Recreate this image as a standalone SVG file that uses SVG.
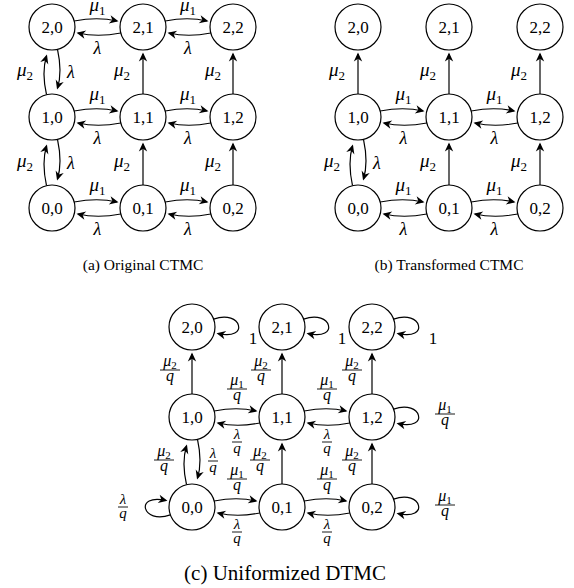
<svg xmlns="http://www.w3.org/2000/svg" width="574" height="588" viewBox="0 0 574 588">
<style>
.n circle{fill:#fff;stroke:#000;stroke-width:1.2}
.n text{font-family:"Liberation Serif",serif;font-size:17px;text-anchor:middle}
.e path{fill:none;stroke:#000;stroke-width:1.2;marker-end:url(#arr)}
.lb text{font-family:"Liberation Serif",serif;font-size:19px;text-anchor:middle}
.lb .l{font-size:18px}
.lb .f{font-size:16px}
.lb .fl{font-size:15px}
.it{font-style:italic}
.sb{font-size:13px;font-style:normal}
.fs{font-size:11px;font-style:normal}
.lb line{stroke:#000;stroke-width:0.9}
.cap{font-family:"Liberation Serif",serif;font-size:15.5px;text-anchor:middle}
.capc{font-family:"Liberation Serif",serif;font-size:21px;text-anchor:middle}
</style>
<defs>
<marker id="arr" markerUnits="userSpaceOnUse" orient="auto" markerWidth="12" markerHeight="12" refX="0" refY="0" overflow="visible">
<path d="M1.5,0 L-7.5,-4.2 L-4.8,0 L-7.5,4.2 Z" fill="#000"/>
</marker>
</defs>

<g id="connectors" class="e">
<!-- panel a -->
<path d="M74.2,21 Q97.5,16.5 117,21"/><path d="M120.8,33 Q97.5,37.5 78,33"/>
<path d="M165.2,21 Q188,16.5 207,21"/><path d="M210.8,33 Q188,37.5 169,33"/>
<path d="M74.2,111 Q97.5,106.5 117,111"/><path d="M120.8,123 Q97.5,127.5 78,123"/>
<path d="M165.2,111 Q188,106.5 207,111"/><path d="M210.8,123 Q188,127.5 169,123"/>
<path d="M74.2,202 Q97.5,197.5 117,202"/><path d="M120.8,214 Q97.5,218.5 78,214"/>
<path d="M165.2,202 Q188,197.5 207,202"/><path d="M210.8,214 Q188,218.5 169,214"/>
<path d="M46.5,94.7 Q41.5,72 46.5,56"/><path d="M57.5,49.3 Q62.5,72 57.5,88"/>
<path d="M46.5,185.7 Q41.5,162.5 46.5,146"/><path d="M57.5,139.3 Q62.5,162.5 57.5,179"/>
<path d="M143,94 L143,54"/><path d="M233,94 L233,54"/>
<path d="M143,185 L143,144"/><path d="M233,185 L233,144"/>
<!-- panel b -->
<path d="M358,94 L358,54"/><path d="M449,94 L449,54"/><path d="M540,94 L540,54"/>
<path d="M380.2,111 Q403.5,106.5 423,111"/><path d="M426.8,123 Q403.5,127.5 384,123"/>
<path d="M471.2,111 Q494.5,106.5 514,111"/><path d="M517.8,123 Q494.5,127.5 475,123"/>
<path d="M380.2,202 Q403.5,197.5 423,202"/><path d="M426.8,214 Q403.5,218.5 384,214"/>
<path d="M471.2,202 Q494.5,197.5 514,202"/><path d="M517.8,214 Q494.5,218.5 475,214"/>
<path d="M352.5,185.7 Q347.5,162.5 352.5,146"/><path d="M363.5,139.3 Q368.5,162.5 363.5,179"/>
<path d="M449,185 L449,144"/><path d="M540,185 L540,144"/>
<!-- panel c -->
<path d="M192,394 L192,354"/><path d="M282,394 L282,354"/><path d="M372,394 L372,354"/>
<path d="M214.2,411 Q237,406.5 256,411"/><path d="M259.8,423 Q237,427.5 218,423"/>
<path d="M304.2,411 Q327,406.5 346,411"/><path d="M349.8,423 Q327,427.5 308,423"/>
<path d="M214.2,501 Q237,496.5 256,501"/><path d="M259.8,513 Q237,517.5 218,513"/>
<path d="M304.2,501 Q327,496.5 346,501"/><path d="M349.8,513 Q327,517.5 308,513"/>
<path d="M186.5,484.7 Q181.5,462 186.5,446"/><path d="M197.5,439.3 Q202.5,462 197.5,478"/>
<path d="M282,484 L282,444"/><path d="M372,484 L372,444"/>
<path d="M213.6,319.1 C242,309 250,341 218,333.5"/>
<path d="M303.6,319.1 C332,309 340,341 308,333.5"/>
<path d="M393.6,319.1 C422,309 430,341 398,333.5"/>
<path d="M393.6,409.1 C422,399 430,431 398,423.5"/>
<path d="M393.6,499.1 C422,489 430,521 398,513.5"/>
<path d="M170.4,514.9 C142,525 134,493 166,500.5"/>
</g>

<g id="nodes-a">
<g id="a20" class="n"><circle cx="52" cy="27" r="23"/><text x="52" y="33">2,0</text></g>
<g id="a21" class="n"><circle cx="143" cy="27" r="23"/><text x="143" y="33">2,1</text></g>
<g id="a22" class="n"><circle cx="233" cy="27" r="23"/><text x="233" y="33">2,2</text></g>
<g id="a10" class="n"><circle cx="52" cy="117" r="23"/><text x="52" y="123">1,0</text></g>
<g id="a11" class="n"><circle cx="143" cy="117" r="23"/><text x="143" y="123">1,1</text></g>
<g id="a12" class="n"><circle cx="233" cy="117" r="23"/><text x="233" y="123">1,2</text></g>
<g id="a00" class="n"><circle cx="52" cy="208" r="23"/><text x="52" y="214">0,0</text></g>
<g id="a01" class="n"><circle cx="143" cy="208" r="23"/><text x="143" y="214">0,1</text></g>
<g id="a02" class="n"><circle cx="233" cy="208" r="23"/><text x="233" y="214">0,2</text></g>
</g>
<g id="nodes-b">
<g id="b20" class="n"><circle cx="358" cy="27" r="23"/><text x="358" y="33">2,0</text></g>
<g id="b21" class="n"><circle cx="449" cy="27" r="23"/><text x="449" y="33">2,1</text></g>
<g id="b22" class="n"><circle cx="540" cy="27" r="23"/><text x="540" y="33">2,2</text></g>
<g id="b10" class="n"><circle cx="358" cy="117" r="23"/><text x="358" y="123">1,0</text></g>
<g id="b11" class="n"><circle cx="449" cy="117" r="23"/><text x="449" y="123">1,1</text></g>
<g id="b12" class="n"><circle cx="540" cy="117" r="23"/><text x="540" y="123">1,2</text></g>
<g id="b00" class="n"><circle cx="358" cy="208" r="23"/><text x="358" y="214">0,0</text></g>
<g id="b01" class="n"><circle cx="449" cy="208" r="23"/><text x="449" y="214">0,1</text></g>
<g id="b02" class="n"><circle cx="540" cy="208" r="23"/><text x="540" y="214">0,2</text></g>
</g>
<g id="nodes-c">
<g id="c20" class="n"><circle cx="192" cy="327" r="23"/><text x="192" y="333">2,0</text></g>
<g id="c21" class="n"><circle cx="282" cy="327" r="23"/><text x="282" y="333">2,1</text></g>
<g id="c22" class="n"><circle cx="372" cy="327" r="23"/><text x="372" y="333">2,2</text></g>
<g id="c10" class="n"><circle cx="192" cy="417" r="23"/><text x="192" y="423">1,0</text></g>
<g id="c11" class="n"><circle cx="282" cy="417" r="23"/><text x="282" y="423">1,1</text></g>
<g id="c12" class="n"><circle cx="372" cy="417" r="23"/><text x="372" y="423">1,2</text></g>
<g id="c00" class="n"><circle cx="192" cy="507" r="23"/><text x="192" y="513">0,0</text></g>
<g id="c01" class="n"><circle cx="282" cy="507" r="23"/><text x="282" y="513">0,1</text></g>
<g id="c02" class="n"><circle cx="372" cy="507" r="23"/><text x="372" y="513">0,2</text></g>
</g>

<g id="labels-a" class="lb">
<text x="97.5" y="11"><tspan class="it">μ</tspan><tspan class="sb" dy="3.5">1</tspan></text>
<text x="188" y="11"><tspan class="it">μ</tspan><tspan class="sb" dy="3.5">1</tspan></text>
<text x="97.5" y="100"><tspan class="it">μ</tspan><tspan class="sb" dy="3.5">1</tspan></text>
<text x="188" y="100"><tspan class="it">μ</tspan><tspan class="sb" dy="3.5">1</tspan></text>
<text x="97.5" y="191"><tspan class="it">μ</tspan><tspan class="sb" dy="3.5">1</tspan></text>
<text x="188" y="191"><tspan class="it">μ</tspan><tspan class="sb" dy="3.5">1</tspan></text>
<text class="it l" x="97.5" y="54">λ</text><text class="it l" x="188" y="54">λ</text>
<text class="it l" x="97.5" y="144">λ</text><text class="it l" x="188" y="144">λ</text>
<text class="it l" x="97.5" y="235">λ</text><text class="it l" x="188" y="235">λ</text>
<text x="25" y="76"><tspan class="it">μ</tspan><tspan class="sb" dy="3.5">2</tspan></text>
<text x="25" y="167"><tspan class="it">μ</tspan><tspan class="sb" dy="3.5">2</tspan></text>
<text class="it l" x="71" y="78">λ</text><text class="it l" x="71" y="169">λ</text>
<text x="122" y="76"><tspan class="it">μ</tspan><tspan class="sb" dy="3.5">2</tspan></text>
<text x="213" y="76"><tspan class="it">μ</tspan><tspan class="sb" dy="3.5">2</tspan></text>
<text x="122" y="167"><tspan class="it">μ</tspan><tspan class="sb" dy="3.5">2</tspan></text>
<text x="213" y="167"><tspan class="it">μ</tspan><tspan class="sb" dy="3.5">2</tspan></text>
</g>

<g id="labels-b" class="lb">
<text x="337" y="76"><tspan class="it">μ</tspan><tspan class="sb" dy="3.5">2</tspan></text>
<text x="428" y="76"><tspan class="it">μ</tspan><tspan class="sb" dy="3.5">2</tspan></text>
<text x="519" y="76"><tspan class="it">μ</tspan><tspan class="sb" dy="3.5">2</tspan></text>
<text x="403.5" y="100"><tspan class="it">μ</tspan><tspan class="sb" dy="3.5">1</tspan></text>
<text x="494.5" y="100"><tspan class="it">μ</tspan><tspan class="sb" dy="3.5">1</tspan></text>
<text x="403.5" y="191"><tspan class="it">μ</tspan><tspan class="sb" dy="3.5">1</tspan></text>
<text x="494.5" y="191"><tspan class="it">μ</tspan><tspan class="sb" dy="3.5">1</tspan></text>
<text class="it l" x="403.5" y="144">λ</text><text class="it l" x="494.5" y="144">λ</text>
<text class="it l" x="403.5" y="235">λ</text><text class="it l" x="494.5" y="235">λ</text>
<text x="332" y="167"><tspan class="it">μ</tspan><tspan class="sb" dy="3.5">2</tspan></text>
<text class="it l" x="377" y="169">λ</text>
<text x="428" y="167"><tspan class="it">μ</tspan><tspan class="sb" dy="3.5">2</tspan></text>
<text x="519" y="167"><tspan class="it">μ</tspan><tspan class="sb" dy="3.5">2</tspan></text>
</g>

<g id="labels-c" class="lb">
<!-- mu2/q fractions -->
<g><text class="f" x="170" y="365.5"><tspan class="it">μ</tspan><tspan class="fs" dy="3">2</tspan></text><line x1="160" y1="370" x2="180" y2="370"/><text class="f it" x="170" y="381">q</text></g>
<g><text class="f" x="261" y="365.5"><tspan class="it">μ</tspan><tspan class="fs" dy="3">2</tspan></text><line x1="251" y1="370" x2="271" y2="370"/><text class="f it" x="261" y="381">q</text></g>
<g><text class="f" x="352" y="365.5"><tspan class="it">μ</tspan><tspan class="fs" dy="3">2</tspan></text><line x1="342" y1="370" x2="362" y2="370"/><text class="f it" x="352" y="381">q</text></g>
<g><text class="f" x="164" y="455.5"><tspan class="it">μ</tspan><tspan class="fs" dy="3">2</tspan></text><line x1="154" y1="460" x2="174" y2="460"/><text class="f it" x="164" y="471">q</text></g>
<g><text class="f" x="260" y="455.5"><tspan class="it">μ</tspan><tspan class="fs" dy="3">2</tspan></text><line x1="250" y1="460" x2="270" y2="460"/><text class="f it" x="260" y="471">q</text></g>
<g><text class="f" x="352" y="455.5"><tspan class="it">μ</tspan><tspan class="fs" dy="3">2</tspan></text><line x1="342" y1="460" x2="362" y2="460"/><text class="f it" x="352" y="471">q</text></g>
<!-- mu1/q fractions -->
<g><text class="f" x="237" y="384.5"><tspan class="it">μ</tspan><tspan class="fs" dy="3">1</tspan></text><line x1="227" y1="389" x2="247" y2="389"/><text class="f it" x="237" y="400">q</text></g>
<g><text class="f" x="327" y="384.5"><tspan class="it">μ</tspan><tspan class="fs" dy="3">1</tspan></text><line x1="317" y1="389" x2="337" y2="389"/><text class="f it" x="327" y="400">q</text></g>
<g><text class="f" x="237" y="474.5"><tspan class="it">μ</tspan><tspan class="fs" dy="3">1</tspan></text><line x1="227" y1="479" x2="247" y2="479"/><text class="f it" x="237" y="490">q</text></g>
<g><text class="f" x="327" y="474.5"><tspan class="it">μ</tspan><tspan class="fs" dy="3">1</tspan></text><line x1="317" y1="479" x2="337" y2="479"/><text class="f it" x="327" y="490">q</text></g>
<g><text class="f" x="445" y="409.5"><tspan class="it">μ</tspan><tspan class="fs" dy="3">1</tspan></text><line x1="435" y1="414" x2="455" y2="414"/><text class="f it" x="445" y="425">q</text></g>
<g><text class="f" x="445" y="500.5"><tspan class="it">μ</tspan><tspan class="fs" dy="3">1</tspan></text><line x1="435" y1="505" x2="455" y2="505"/><text class="f it" x="445" y="516">q</text></g>
<!-- lambda/q fractions -->
<g><text class="fl it" x="237" y="439">λ</text><line x1="232" y1="442" x2="242" y2="442"/><text class="fl it" x="237" y="453">q</text></g>
<g><text class="fl it" x="327" y="439">λ</text><line x1="322" y1="442" x2="332" y2="442"/><text class="fl it" x="327" y="453">q</text></g>
<g><text class="fl it" x="237" y="529">λ</text><line x1="232" y1="532" x2="242" y2="532"/><text class="fl it" x="237" y="543">q</text></g>
<g><text class="fl it" x="327" y="529">λ</text><line x1="322" y1="532" x2="332" y2="532"/><text class="fl it" x="327" y="543">q</text></g>
<g><text class="fl it" x="213" y="458">λ</text><line x1="208" y1="461" x2="218" y2="461"/><text class="fl it" x="213" y="472">q</text></g>
<g><text class="fl it" x="123" y="504">λ</text><line x1="118" y1="507" x2="128" y2="507"/><text class="fl it" x="123" y="518">q</text></g>
<!-- loop labels -->
<text x="253" y="344" style="font-size:17px">1</text>
<text x="342" y="344" style="font-size:17px">1</text>
<text x="433" y="344" style="font-size:17px">1</text>
</g>

<text class="cap" x="143" y="270">(a) Original CTMC</text>
<text class="cap" x="449" y="270">(b) Transformed CTMC</text>
<text class="capc" x="285" y="580">(c) Uniformized DTMC</text>
</svg>
